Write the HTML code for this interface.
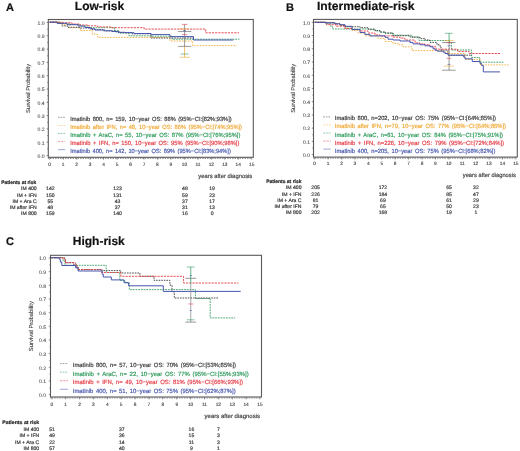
<!DOCTYPE html>
<html><head><meta charset="utf-8"><style>
html,body{margin:0;padding:0;background:#fff;}
svg{display:block;font-family:"Liberation Sans", sans-serif;text-rendering:geometricPrecision;will-change:transform;filter:blur(0.25px);}
</style></head><body>
<svg width="520" height="451" viewBox="0 0 520 451">
<rect width="520" height="451" fill="#fff"/>
<text x="6" y="10.8" font-size="11" text-anchor="start" fill="#111" stroke="#111" stroke-width="0.18" font-weight="bold">A</text>
<text x="74.8" y="9.6" font-size="12" text-anchor="start" fill="#111" stroke="#111" stroke-width="0.18" font-weight="bold" textLength="49.4" lengthAdjust="spacingAndGlyphs">Low-risk</text>
<rect x="48.3" y="19.5" width="205.0" height="137.8" fill="none" stroke="#5a5a5a" stroke-width="1.1"/>
<line x1="46.599999999999994" y1="155.50" x2="48.3" y2="155.50" stroke="#5a5a5a" stroke-width="0.7"/>
<text x="44.699999999999996" y="157.80" font-size="5.1" text-anchor="end" fill="#555" stroke="#555" stroke-width="0.1">0.0</text>
<line x1="47.099999999999994" y1="148.85" x2="48.3" y2="148.85" stroke="#5a5a5a" stroke-width="0.6"/>
<line x1="46.599999999999994" y1="142.20" x2="48.3" y2="142.20" stroke="#5a5a5a" stroke-width="0.7"/>
<text x="44.699999999999996" y="144.50" font-size="5.1" text-anchor="end" fill="#555" stroke="#555" stroke-width="0.1">0.1</text>
<line x1="47.099999999999994" y1="135.55" x2="48.3" y2="135.55" stroke="#5a5a5a" stroke-width="0.6"/>
<line x1="46.599999999999994" y1="128.90" x2="48.3" y2="128.90" stroke="#5a5a5a" stroke-width="0.7"/>
<text x="44.699999999999996" y="131.20" font-size="5.1" text-anchor="end" fill="#555" stroke="#555" stroke-width="0.1">0.2</text>
<line x1="47.099999999999994" y1="122.25" x2="48.3" y2="122.25" stroke="#5a5a5a" stroke-width="0.6"/>
<line x1="46.599999999999994" y1="115.60" x2="48.3" y2="115.60" stroke="#5a5a5a" stroke-width="0.7"/>
<text x="44.699999999999996" y="117.90" font-size="5.1" text-anchor="end" fill="#555" stroke="#555" stroke-width="0.1">0.3</text>
<line x1="47.099999999999994" y1="108.95" x2="48.3" y2="108.95" stroke="#5a5a5a" stroke-width="0.6"/>
<line x1="46.599999999999994" y1="102.30" x2="48.3" y2="102.30" stroke="#5a5a5a" stroke-width="0.7"/>
<text x="44.699999999999996" y="104.60" font-size="5.1" text-anchor="end" fill="#555" stroke="#555" stroke-width="0.1">0.4</text>
<line x1="47.099999999999994" y1="95.65" x2="48.3" y2="95.65" stroke="#5a5a5a" stroke-width="0.6"/>
<line x1="46.599999999999994" y1="89.00" x2="48.3" y2="89.00" stroke="#5a5a5a" stroke-width="0.7"/>
<text x="44.699999999999996" y="91.30" font-size="5.1" text-anchor="end" fill="#555" stroke="#555" stroke-width="0.1">0.5</text>
<line x1="47.099999999999994" y1="82.35" x2="48.3" y2="82.35" stroke="#5a5a5a" stroke-width="0.6"/>
<line x1="46.599999999999994" y1="75.70" x2="48.3" y2="75.70" stroke="#5a5a5a" stroke-width="0.7"/>
<text x="44.699999999999996" y="78.00" font-size="5.1" text-anchor="end" fill="#555" stroke="#555" stroke-width="0.1">0.6</text>
<line x1="47.099999999999994" y1="69.05" x2="48.3" y2="69.05" stroke="#5a5a5a" stroke-width="0.6"/>
<line x1="46.599999999999994" y1="62.40" x2="48.3" y2="62.40" stroke="#5a5a5a" stroke-width="0.7"/>
<text x="44.699999999999996" y="64.70" font-size="5.1" text-anchor="end" fill="#555" stroke="#555" stroke-width="0.1">0.7</text>
<line x1="47.099999999999994" y1="55.75" x2="48.3" y2="55.75" stroke="#5a5a5a" stroke-width="0.6"/>
<line x1="46.599999999999994" y1="49.10" x2="48.3" y2="49.10" stroke="#5a5a5a" stroke-width="0.7"/>
<text x="44.699999999999996" y="51.40" font-size="5.1" text-anchor="end" fill="#555" stroke="#555" stroke-width="0.1">0.8</text>
<line x1="47.099999999999994" y1="42.45" x2="48.3" y2="42.45" stroke="#5a5a5a" stroke-width="0.6"/>
<line x1="46.599999999999994" y1="35.80" x2="48.3" y2="35.80" stroke="#5a5a5a" stroke-width="0.7"/>
<text x="44.699999999999996" y="38.10" font-size="5.1" text-anchor="end" fill="#555" stroke="#555" stroke-width="0.1">0.9</text>
<line x1="47.099999999999994" y1="29.15" x2="48.3" y2="29.15" stroke="#5a5a5a" stroke-width="0.6"/>
<line x1="46.599999999999994" y1="22.50" x2="48.3" y2="22.50" stroke="#5a5a5a" stroke-width="0.7"/>
<text x="44.699999999999996" y="24.80" font-size="5.1" text-anchor="end" fill="#555" stroke="#555" stroke-width="0.1">1.0</text>
<line x1="49.70" y1="157.3" x2="49.70" y2="159.70000000000002" stroke="#5a5a5a" stroke-width="0.6"/>
<text x="49.70" y="166.10" font-size="4.8" text-anchor="middle" fill="#444" stroke="#444" stroke-width="0.12">0</text>
<line x1="63.17" y1="157.3" x2="63.17" y2="159.70000000000002" stroke="#5a5a5a" stroke-width="0.6"/>
<text x="63.17" y="166.10" font-size="4.8" text-anchor="middle" fill="#444" stroke="#444" stroke-width="0.12">1</text>
<line x1="76.64" y1="157.3" x2="76.64" y2="159.70000000000002" stroke="#5a5a5a" stroke-width="0.6"/>
<text x="76.64" y="166.10" font-size="4.8" text-anchor="middle" fill="#444" stroke="#444" stroke-width="0.12">2</text>
<line x1="90.11" y1="157.3" x2="90.11" y2="159.70000000000002" stroke="#5a5a5a" stroke-width="0.6"/>
<text x="90.11" y="166.10" font-size="4.8" text-anchor="middle" fill="#444" stroke="#444" stroke-width="0.12">3</text>
<line x1="103.58" y1="157.3" x2="103.58" y2="159.70000000000002" stroke="#5a5a5a" stroke-width="0.6"/>
<text x="103.58" y="166.10" font-size="4.8" text-anchor="middle" fill="#444" stroke="#444" stroke-width="0.12">4</text>
<line x1="117.05" y1="157.3" x2="117.05" y2="159.70000000000002" stroke="#5a5a5a" stroke-width="0.6"/>
<text x="117.05" y="166.10" font-size="4.8" text-anchor="middle" fill="#444" stroke="#444" stroke-width="0.12">5</text>
<line x1="130.52" y1="157.3" x2="130.52" y2="159.70000000000002" stroke="#5a5a5a" stroke-width="0.6"/>
<text x="130.52" y="166.10" font-size="4.8" text-anchor="middle" fill="#444" stroke="#444" stroke-width="0.12">6</text>
<line x1="143.99" y1="157.3" x2="143.99" y2="159.70000000000002" stroke="#5a5a5a" stroke-width="0.6"/>
<text x="143.99" y="166.10" font-size="4.8" text-anchor="middle" fill="#444" stroke="#444" stroke-width="0.12">7</text>
<line x1="157.46" y1="157.3" x2="157.46" y2="159.70000000000002" stroke="#5a5a5a" stroke-width="0.6"/>
<text x="157.46" y="166.10" font-size="4.8" text-anchor="middle" fill="#444" stroke="#444" stroke-width="0.12">8</text>
<line x1="170.93" y1="157.3" x2="170.93" y2="159.70000000000002" stroke="#5a5a5a" stroke-width="0.6"/>
<text x="170.93" y="166.10" font-size="4.8" text-anchor="middle" fill="#444" stroke="#444" stroke-width="0.12">9</text>
<line x1="184.40" y1="157.3" x2="184.40" y2="159.70000000000002" stroke="#5a5a5a" stroke-width="0.6"/>
<text x="184.40" y="166.10" font-size="4.8" text-anchor="middle" fill="#444" stroke="#444" stroke-width="0.12">10</text>
<line x1="197.87" y1="157.3" x2="197.87" y2="159.70000000000002" stroke="#5a5a5a" stroke-width="0.6"/>
<text x="197.87" y="166.10" font-size="4.8" text-anchor="middle" fill="#444" stroke="#444" stroke-width="0.12">11</text>
<line x1="211.34" y1="157.3" x2="211.34" y2="159.70000000000002" stroke="#5a5a5a" stroke-width="0.6"/>
<text x="211.34" y="166.10" font-size="4.8" text-anchor="middle" fill="#444" stroke="#444" stroke-width="0.12">12</text>
<line x1="224.81" y1="157.3" x2="224.81" y2="159.70000000000002" stroke="#5a5a5a" stroke-width="0.6"/>
<text x="224.81" y="166.10" font-size="4.8" text-anchor="middle" fill="#444" stroke="#444" stroke-width="0.12">13</text>
<line x1="238.28" y1="157.3" x2="238.28" y2="159.70000000000002" stroke="#5a5a5a" stroke-width="0.6"/>
<text x="238.28" y="166.10" font-size="4.8" text-anchor="middle" fill="#444" stroke="#444" stroke-width="0.12">14</text>
<line x1="251.75" y1="157.3" x2="251.75" y2="159.70000000000002" stroke="#5a5a5a" stroke-width="0.6"/>
<text x="251.75" y="166.10" font-size="4.8" text-anchor="middle" fill="#444" stroke="#444" stroke-width="0.12">15</text>
<line x1="48.3" y1="158.3" x2="251.75" y2="158.3" stroke="#5a5a5a" stroke-width="1.2" stroke-dasharray="0.6 1.07"/>
<text x="30.4" y="88.4" font-size="5.8" text-anchor="middle" fill="#444" stroke="#444" stroke-width="0.12" transform="rotate(-90 30.4 88.4)" textLength="49" lengthAdjust="spacingAndGlyphs">Survival Probability</text>
<text x="198.3" y="178" font-size="5.9" text-anchor="start" fill="#444" stroke="#444" stroke-width="0.18" textLength="54" lengthAdjust="spacingAndGlyphs">years after diagnosis</text>
<path d="M49.7,22.2H63.0V24.8H70.0V27.7H80.3V30.5H92.4V34.2H97.7V37.4H170.0V41.0H192.7V45.6H236.8" fill="none" stroke="#f0aa36" stroke-width="0.9" stroke-dasharray="1.6 1.2"/>
<path d="M49.7,22.2H60.0V23.2H70.0V24.5H80.0V26.0H88.0V27.7H114.6V30.4H118.5V33.0H129.0V35.8H151.0V36.2H172.0V39.2H239.4" fill="none" stroke="#2f9a5c" stroke-width="0.85" stroke-dasharray="1.8 0.9"/>
<path d="M49.7,22.2H58.0V23.5H62.0V25.9H67.6V27.3H80.0V28.0H92.0V29.6H103.0V30.8H115.0V31.8H120.0V32.7H132.0V33.8H151.0V38.0H193.0" fill="none" stroke="#3a3a3a" stroke-width="0.9" stroke-dasharray="1.6 1.0"/>
<path d="M49.7,22.2H60.0V22.8H72.0V24.0H80.0V25.0H88.0V25.8H97.7V26.9H110.8V27.7H144.2V29.1H205.7V32.8H239.0" fill="none" stroke="#e63c46" stroke-width="0.9" stroke-dasharray="2.2 1.0"/>
<path d="M49.7,22.2H57.0V23.3H67.0V24.7H78.0V26.0H85.0V27.5H90.0V28.8H95.0V30.0H105.0V30.8H112.0V31.5H118.0V32.3H125.0V32.7H134.0V33.5H151.0V34.6H170.0V36.6H193.5V40.0H233.3" fill="none" stroke="#4656ae" stroke-width="1.0"/>
<line x1="184.6" y1="24.4" x2="184.6" y2="46.4" stroke="#777" stroke-width="1.0" opacity="0.75"/>
<line x1="184.6" y1="46.4" x2="184.6" y2="57.3" stroke="#f0aa36" stroke-width="1.0" opacity="0.75"/>
<line x1="182" y1="24.4" x2="187.3" y2="24.4" stroke="#e63c46" stroke-width="0.9" opacity="0.65"/>
<line x1="179.3" y1="28.9" x2="189" y2="28.9" stroke="#f0aa36" stroke-width="0.9" opacity="0.65"/>
<line x1="178" y1="31.5" x2="191.3" y2="31.5" stroke="#555" stroke-width="0.9" opacity="0.65"/>
<line x1="182" y1="34.6" x2="187.3" y2="34.6" stroke="#e63c46" stroke-width="0.9" opacity="0.65"/>
<line x1="178" y1="46.4" x2="191.3" y2="46.4" stroke="#555" stroke-width="0.9" opacity="0.65"/>
<line x1="180.6" y1="54" x2="188.6" y2="54" stroke="#2f9a5c" stroke-width="0.9" opacity="0.65"/>
<line x1="179.3" y1="57.3" x2="190" y2="57.3" stroke="#f0aa36" stroke-width="0.9" opacity="0.65"/>
<line x1="183" y1="30.6" x2="186" y2="30.6" stroke="#4656ae" stroke-width="0.9" opacity="0.65"/>
<line x1="58" y1="117.30" x2="65.3" y2="117.30" stroke="#3a3a3a" stroke-width="0.75" stroke-dasharray="1.6 1.0" opacity="0.7"/>
<text x="70.2" y="120.80" font-size="6.0" text-anchor="start" fill="#3a3a3a" stroke="#3a3a3a" stroke-width="0.18" textLength="161.5" lengthAdjust="spacingAndGlyphs" word-spacing="0.9">Imatinib 800, n= 159, 10−year OS: 88% (95%−CI:[82%;93%])</text>
<line x1="58" y1="125.40" x2="65.3" y2="125.40" stroke="#f0aa36" stroke-width="0.75" stroke-dasharray="1.6 1.2" opacity="0.7"/>
<text x="70.2" y="128.90" font-size="6.0" text-anchor="start" fill="#f0aa36" stroke="#f0aa36" stroke-width="0.18" textLength="171.8" lengthAdjust="spacingAndGlyphs" word-spacing="0.9">Imatinib after IFN, n= 48, 10−year OS: 86% (95%−CI:[74%;95%])</text>
<line x1="58" y1="133.50" x2="65.3" y2="133.50" stroke="#2f9a5c" stroke-width="0.75" stroke-dasharray="1.8 0.9" opacity="0.7"/>
<text x="70.2" y="137.00" font-size="6.0" text-anchor="start" fill="#2f9a5c" stroke="#2f9a5c" stroke-width="0.18" textLength="170.2" lengthAdjust="spacingAndGlyphs" word-spacing="0.9">Imatinib + AraC, n= 55, 10−year OS: 87% (95%−CI:[76%;95%])</text>
<line x1="58" y1="141.60" x2="65.3" y2="141.60" stroke="#e63c46" stroke-width="0.75" stroke-dasharray="2.2 1.0" opacity="0.7"/>
<text x="70.2" y="145.10" font-size="6.0" text-anchor="start" fill="#e63c46" stroke="#e63c46" stroke-width="0.18" textLength="169.2" lengthAdjust="spacingAndGlyphs" word-spacing="0.9">Imatinib + IFN, n= 150, 10−year OS: 95% (95%−CI:[90%;98%])</text>
<line x1="58" y1="149.70" x2="65.3" y2="149.70" stroke="#4656ae" stroke-width="0.75" opacity="0.7"/>
<text x="70.2" y="153.20" font-size="6.0" text-anchor="start" fill="#4656ae" stroke="#4656ae" stroke-width="0.18" textLength="160.6" lengthAdjust="spacingAndGlyphs" word-spacing="0.9">Imatinib 400, n= 142, 10−year OS: 89% (95%−CI:[83%;94%])</text>
<text x="1.2" y="183.70" font-size="5.0" text-anchor="start" fill="#222" stroke="#222" stroke-width="0.18" font-weight="bold" textLength="35" lengthAdjust="spacingAndGlyphs">Patients at risk</text>
<text x="36.7" y="190.40" font-size="5.1" text-anchor="end" fill="#333" stroke="#333" stroke-width="0.18">IM 400</text>
<text x="50.3" y="190.40" font-size="5.1" text-anchor="middle" fill="#333" stroke="#333" stroke-width="0.16">142</text>
<text x="117.6" y="190.40" font-size="5.1" text-anchor="middle" fill="#333" stroke="#333" stroke-width="0.16">123</text>
<text x="184.9" y="190.40" font-size="5.1" text-anchor="middle" fill="#333" stroke="#333" stroke-width="0.16">48</text>
<text x="212.1" y="190.40" font-size="5.1" text-anchor="middle" fill="#333" stroke="#333" stroke-width="0.16">19</text>
<text x="36.7" y="196.60" font-size="5.1" text-anchor="end" fill="#333" stroke="#333" stroke-width="0.18">IM + IFN</text>
<text x="50.3" y="196.60" font-size="5.1" text-anchor="middle" fill="#333" stroke="#333" stroke-width="0.16">150</text>
<text x="117.6" y="196.60" font-size="5.1" text-anchor="middle" fill="#333" stroke="#333" stroke-width="0.16">131</text>
<text x="184.9" y="196.60" font-size="5.1" text-anchor="middle" fill="#333" stroke="#333" stroke-width="0.16">59</text>
<text x="212.1" y="196.60" font-size="5.1" text-anchor="middle" fill="#333" stroke="#333" stroke-width="0.16">23</text>
<text x="36.7" y="202.80" font-size="5.1" text-anchor="end" fill="#333" stroke="#333" stroke-width="0.18">IM + Ara C</text>
<text x="50.3" y="202.80" font-size="5.1" text-anchor="middle" fill="#333" stroke="#333" stroke-width="0.16">55</text>
<text x="117.6" y="202.80" font-size="5.1" text-anchor="middle" fill="#333" stroke="#333" stroke-width="0.16">43</text>
<text x="184.9" y="202.80" font-size="5.1" text-anchor="middle" fill="#333" stroke="#333" stroke-width="0.16">37</text>
<text x="212.1" y="202.80" font-size="5.1" text-anchor="middle" fill="#333" stroke="#333" stroke-width="0.16">17</text>
<text x="36.7" y="209.00" font-size="5.1" text-anchor="end" fill="#333" stroke="#333" stroke-width="0.18">IM after IFN</text>
<text x="50.3" y="209.00" font-size="5.1" text-anchor="middle" fill="#333" stroke="#333" stroke-width="0.16">48</text>
<text x="117.6" y="209.00" font-size="5.1" text-anchor="middle" fill="#333" stroke="#333" stroke-width="0.16">37</text>
<text x="184.9" y="209.00" font-size="5.1" text-anchor="middle" fill="#333" stroke="#333" stroke-width="0.16">31</text>
<text x="212.1" y="209.00" font-size="5.1" text-anchor="middle" fill="#333" stroke="#333" stroke-width="0.16">13</text>
<text x="36.7" y="215.20" font-size="5.1" text-anchor="end" fill="#333" stroke="#333" stroke-width="0.18">IM 800</text>
<text x="50.3" y="215.20" font-size="5.1" text-anchor="middle" fill="#333" stroke="#333" stroke-width="0.16">159</text>
<text x="117.6" y="215.20" font-size="5.1" text-anchor="middle" fill="#333" stroke="#333" stroke-width="0.16">140</text>
<text x="184.9" y="215.20" font-size="5.1" text-anchor="middle" fill="#333" stroke="#333" stroke-width="0.16">16</text>
<text x="212.1" y="215.20" font-size="5.1" text-anchor="middle" fill="#333" stroke="#333" stroke-width="0.16">0</text>
<text x="285.9" y="10.8" font-size="11" text-anchor="start" fill="#111" stroke="#111" stroke-width="0.18" font-weight="bold">B</text>
<text x="316.9" y="9.6" font-size="12" text-anchor="start" fill="#111" stroke="#111" stroke-width="0.18" font-weight="bold" textLength="97.6" lengthAdjust="spacingAndGlyphs">Intermediate-risk</text>
<rect x="313.5" y="19.4" width="203.79999999999995" height="137.7" fill="none" stroke="#5a5a5a" stroke-width="1.1"/>
<line x1="311.8" y1="154.60" x2="313.5" y2="154.60" stroke="#5a5a5a" stroke-width="0.7"/>
<text x="310.0" y="156.90" font-size="5.1" text-anchor="end" fill="#555" stroke="#555" stroke-width="0.1">0.0</text>
<line x1="312.3" y1="147.98" x2="313.5" y2="147.98" stroke="#5a5a5a" stroke-width="0.6"/>
<line x1="311.8" y1="141.37" x2="313.5" y2="141.37" stroke="#5a5a5a" stroke-width="0.7"/>
<text x="310.0" y="143.67" font-size="5.1" text-anchor="end" fill="#555" stroke="#555" stroke-width="0.1">0.1</text>
<line x1="312.3" y1="134.75" x2="313.5" y2="134.75" stroke="#5a5a5a" stroke-width="0.6"/>
<line x1="311.8" y1="128.14" x2="313.5" y2="128.14" stroke="#5a5a5a" stroke-width="0.7"/>
<text x="310.0" y="130.44" font-size="5.1" text-anchor="end" fill="#555" stroke="#555" stroke-width="0.1">0.2</text>
<line x1="312.3" y1="121.52" x2="313.5" y2="121.52" stroke="#5a5a5a" stroke-width="0.6"/>
<line x1="311.8" y1="114.91" x2="313.5" y2="114.91" stroke="#5a5a5a" stroke-width="0.7"/>
<text x="310.0" y="117.21" font-size="5.1" text-anchor="end" fill="#555" stroke="#555" stroke-width="0.1">0.3</text>
<line x1="312.3" y1="108.29" x2="313.5" y2="108.29" stroke="#5a5a5a" stroke-width="0.6"/>
<line x1="311.8" y1="101.68" x2="313.5" y2="101.68" stroke="#5a5a5a" stroke-width="0.7"/>
<text x="310.0" y="103.98" font-size="5.1" text-anchor="end" fill="#555" stroke="#555" stroke-width="0.1">0.4</text>
<line x1="312.3" y1="95.06" x2="313.5" y2="95.06" stroke="#5a5a5a" stroke-width="0.6"/>
<line x1="311.8" y1="88.45" x2="313.5" y2="88.45" stroke="#5a5a5a" stroke-width="0.7"/>
<text x="310.0" y="90.75" font-size="5.1" text-anchor="end" fill="#555" stroke="#555" stroke-width="0.1">0.5</text>
<line x1="312.3" y1="81.83" x2="313.5" y2="81.83" stroke="#5a5a5a" stroke-width="0.6"/>
<line x1="311.8" y1="75.22" x2="313.5" y2="75.22" stroke="#5a5a5a" stroke-width="0.7"/>
<text x="310.0" y="77.52" font-size="5.1" text-anchor="end" fill="#555" stroke="#555" stroke-width="0.1">0.6</text>
<line x1="312.3" y1="68.60" x2="313.5" y2="68.60" stroke="#5a5a5a" stroke-width="0.6"/>
<line x1="311.8" y1="61.99" x2="313.5" y2="61.99" stroke="#5a5a5a" stroke-width="0.7"/>
<text x="310.0" y="64.29" font-size="5.1" text-anchor="end" fill="#555" stroke="#555" stroke-width="0.1">0.7</text>
<line x1="312.3" y1="55.37" x2="313.5" y2="55.37" stroke="#5a5a5a" stroke-width="0.6"/>
<line x1="311.8" y1="48.76" x2="313.5" y2="48.76" stroke="#5a5a5a" stroke-width="0.7"/>
<text x="310.0" y="51.06" font-size="5.1" text-anchor="end" fill="#555" stroke="#555" stroke-width="0.1">0.8</text>
<line x1="312.3" y1="42.14" x2="313.5" y2="42.14" stroke="#5a5a5a" stroke-width="0.6"/>
<line x1="311.8" y1="35.53" x2="313.5" y2="35.53" stroke="#5a5a5a" stroke-width="0.7"/>
<text x="310.0" y="37.83" font-size="5.1" text-anchor="end" fill="#555" stroke="#555" stroke-width="0.1">0.9</text>
<line x1="312.3" y1="28.91" x2="313.5" y2="28.91" stroke="#5a5a5a" stroke-width="0.6"/>
<line x1="311.8" y1="22.30" x2="313.5" y2="22.30" stroke="#5a5a5a" stroke-width="0.7"/>
<text x="310.0" y="24.60" font-size="5.1" text-anchor="end" fill="#555" stroke="#555" stroke-width="0.1">1.0</text>
<line x1="314.70" y1="157.1" x2="314.70" y2="159.5" stroke="#5a5a5a" stroke-width="0.6"/>
<text x="314.70" y="165.30" font-size="4.8" text-anchor="middle" fill="#444" stroke="#444" stroke-width="0.12">0</text>
<line x1="328.11" y1="157.1" x2="328.11" y2="159.5" stroke="#5a5a5a" stroke-width="0.6"/>
<text x="328.11" y="165.30" font-size="4.8" text-anchor="middle" fill="#444" stroke="#444" stroke-width="0.12">1</text>
<line x1="341.52" y1="157.1" x2="341.52" y2="159.5" stroke="#5a5a5a" stroke-width="0.6"/>
<text x="341.52" y="165.30" font-size="4.8" text-anchor="middle" fill="#444" stroke="#444" stroke-width="0.12">2</text>
<line x1="354.93" y1="157.1" x2="354.93" y2="159.5" stroke="#5a5a5a" stroke-width="0.6"/>
<text x="354.93" y="165.30" font-size="4.8" text-anchor="middle" fill="#444" stroke="#444" stroke-width="0.12">3</text>
<line x1="368.34" y1="157.1" x2="368.34" y2="159.5" stroke="#5a5a5a" stroke-width="0.6"/>
<text x="368.34" y="165.30" font-size="4.8" text-anchor="middle" fill="#444" stroke="#444" stroke-width="0.12">4</text>
<line x1="381.75" y1="157.1" x2="381.75" y2="159.5" stroke="#5a5a5a" stroke-width="0.6"/>
<text x="381.75" y="165.30" font-size="4.8" text-anchor="middle" fill="#444" stroke="#444" stroke-width="0.12">5</text>
<line x1="395.16" y1="157.1" x2="395.16" y2="159.5" stroke="#5a5a5a" stroke-width="0.6"/>
<text x="395.16" y="165.30" font-size="4.8" text-anchor="middle" fill="#444" stroke="#444" stroke-width="0.12">6</text>
<line x1="408.57" y1="157.1" x2="408.57" y2="159.5" stroke="#5a5a5a" stroke-width="0.6"/>
<text x="408.57" y="165.30" font-size="4.8" text-anchor="middle" fill="#444" stroke="#444" stroke-width="0.12">7</text>
<line x1="421.98" y1="157.1" x2="421.98" y2="159.5" stroke="#5a5a5a" stroke-width="0.6"/>
<text x="421.98" y="165.30" font-size="4.8" text-anchor="middle" fill="#444" stroke="#444" stroke-width="0.12">8</text>
<line x1="435.39" y1="157.1" x2="435.39" y2="159.5" stroke="#5a5a5a" stroke-width="0.6"/>
<text x="435.39" y="165.30" font-size="4.8" text-anchor="middle" fill="#444" stroke="#444" stroke-width="0.12">9</text>
<line x1="448.80" y1="157.1" x2="448.80" y2="159.5" stroke="#5a5a5a" stroke-width="0.6"/>
<text x="448.80" y="165.30" font-size="4.8" text-anchor="middle" fill="#444" stroke="#444" stroke-width="0.12">10</text>
<line x1="462.21" y1="157.1" x2="462.21" y2="159.5" stroke="#5a5a5a" stroke-width="0.6"/>
<text x="462.21" y="165.30" font-size="4.8" text-anchor="middle" fill="#444" stroke="#444" stroke-width="0.12">11</text>
<line x1="475.62" y1="157.1" x2="475.62" y2="159.5" stroke="#5a5a5a" stroke-width="0.6"/>
<text x="475.62" y="165.30" font-size="4.8" text-anchor="middle" fill="#444" stroke="#444" stroke-width="0.12">12</text>
<line x1="489.03" y1="157.1" x2="489.03" y2="159.5" stroke="#5a5a5a" stroke-width="0.6"/>
<text x="489.03" y="165.30" font-size="4.8" text-anchor="middle" fill="#444" stroke="#444" stroke-width="0.12">13</text>
<line x1="502.44" y1="157.1" x2="502.44" y2="159.5" stroke="#5a5a5a" stroke-width="0.6"/>
<text x="502.44" y="165.30" font-size="4.8" text-anchor="middle" fill="#444" stroke="#444" stroke-width="0.12">14</text>
<line x1="515.85" y1="157.1" x2="515.85" y2="159.5" stroke="#5a5a5a" stroke-width="0.6"/>
<text x="515.85" y="165.30" font-size="4.8" text-anchor="middle" fill="#444" stroke="#444" stroke-width="0.12">15</text>
<line x1="313.5" y1="158.1" x2="515.85" y2="158.1" stroke="#5a5a5a" stroke-width="1.2" stroke-dasharray="0.6 1.07"/>
<text x="295.4" y="88.25" font-size="5.8" text-anchor="middle" fill="#444" stroke="#444" stroke-width="0.12" transform="rotate(-90 295.4 88.25)" textLength="49" lengthAdjust="spacingAndGlyphs">Survival Probability</text>
<text x="462.8" y="177.2" font-size="5.9" text-anchor="start" fill="#444" stroke="#444" stroke-width="0.18" textLength="53" lengthAdjust="spacingAndGlyphs">years after diagnosis</text>
<path d="M314.7,22.3H334.0V23.5H340.0V25.5H345.0V28.2H352.0V30.6H358.0V33.0H365.0V35.9H378.0V38.3H385.0V41.6H393.0V43.4H398.0V44.8H403.0V46.8H412.0V50.6H443.0V52.0H448.0V53.5H465.0V59.5H480.4V64.9H508.6" fill="none" stroke="#f0aa36" stroke-width="0.9" stroke-dasharray="1.6 1.2"/>
<path d="M314.7,22.3H326.4V23.8H330.8V26.7H332.7V29.0H370.0V29.6H375.0V30.8H380.0V32.2H385.0V33.2H393.0V35.2H412.0V37.1H419.0V40.5H449.5V42.7H451.4V50.0H471.6V57.5H479.7V62.2H504.0" fill="none" stroke="#2f9a5c" stroke-width="0.85" stroke-dasharray="1.8 0.9"/>
<path d="M314.7,22.3H325.0V22.8H335.0V24.0H340.0V25.2H345.0V26.7H360.0V27.7H368.0V29.1H375.0V30.6H380.0V32.0H385.0V33.0H393.0V35.7H410.0V37.1H420.0V38.6H425.0V40.0H430.0V42.4H437.0V44.8H440.0V46.3H441.0V50.1H448.0V55.2H472.0" fill="none" stroke="#3a3a3a" stroke-width="0.9" stroke-dasharray="1.6 1.0"/>
<path d="M314.7,22.3H326.4V24.7H336.0V26.2H345.0V28.6H352.0V29.5H360.0V31.0H368.0V33.0H375.0V34.9H380.0V35.9H393.0V37.1H400.0V38.1H405.0V40.0H415.0V42.9H420.0V43.9H425.0V44.8H430.0V46.3H433.0V46.8H436.0V49.2H457.5V51.4H469.0V53.5H500.6" fill="none" stroke="#e63c46" stroke-width="0.9" stroke-dasharray="2.2 1.0"/>
<path d="M314.7,22.3H325.0V22.8H335.0V23.8H340.0V24.7H345.0V26.3H352.0V29.6H360.0V32.5H365.0V34.4H370.0V35.9H385.0V37.3H388.0V39.2H393.0V40.0H400.0V41.0H410.0V42.4H413.0V43.9H420.0V44.8H425.0V45.8H430.0V46.8H433.0V48.7H435.0V50.1H437.0V51.1H443.0V52.0H445.0V53.5H448.0V55.2H463.5V56.8H465.0V58.8H472.3V61.5H480.0V63.6H481.7V65.6H483.3V71.9H500.0" fill="none" stroke="#4656ae" stroke-width="1.0"/>
<line x1="449.1" y1="33.3" x2="449.1" y2="42" stroke="#2f9a5c" stroke-width="1.0" opacity="0.75"/>
<line x1="449.1" y1="42" x2="449.1" y2="70.2" stroke="#777" stroke-width="1.0" opacity="0.75"/>
<line x1="445" y1="33.3" x2="452.7" y2="33.3" stroke="#2f9a5c" stroke-width="0.9" opacity="0.65"/>
<line x1="443.9" y1="40.5" x2="453.8" y2="40.5" stroke="#f0aa36" stroke-width="0.9" opacity="0.65"/>
<line x1="442.2" y1="42.5" x2="455.5" y2="42.5" stroke="#555" stroke-width="0.9" opacity="0.65"/>
<line x1="446.6" y1="42.7" x2="451" y2="42.7" stroke="#e63c46" stroke-width="0.9" opacity="0.65"/>
<line x1="447.5" y1="45.8" x2="450.5" y2="45.8" stroke="#4656ae" stroke-width="0.9" opacity="0.65"/>
<line x1="446.6" y1="58.3" x2="451" y2="58.3" stroke="#e63c46" stroke-width="0.9" opacity="0.65"/>
<line x1="447.5" y1="64.4" x2="450.5" y2="64.4" stroke="#4656ae" stroke-width="0.9" opacity="0.65"/>
<line x1="443.9" y1="66" x2="453.8" y2="66" stroke="#f0aa36" stroke-width="0.9" opacity="0.65"/>
<line x1="442.2" y1="70.2" x2="455.7" y2="70.2" stroke="#555" stroke-width="0.9" opacity="0.65"/>
<line x1="323.3" y1="116.90" x2="330.7" y2="116.90" stroke="#3a3a3a" stroke-width="0.75" stroke-dasharray="1.6 1.0" opacity="0.7"/>
<text x="334.8" y="120.40" font-size="6.0" text-anchor="start" fill="#3a3a3a" stroke="#3a3a3a" stroke-width="0.18" textLength="161.2" lengthAdjust="spacingAndGlyphs" word-spacing="0.9">Imatinib 800, n=202, 10−year OS: 75% (95%−CI:[64%;85%])</text>
<line x1="323.3" y1="124.95" x2="330.7" y2="124.95" stroke="#f0aa36" stroke-width="0.75" stroke-dasharray="1.6 1.2" opacity="0.7"/>
<text x="334.8" y="128.45" font-size="6.0" text-anchor="start" fill="#f0aa36" stroke="#f0aa36" stroke-width="0.18" textLength="171.2" lengthAdjust="spacingAndGlyphs" word-spacing="0.9">Imatinib after IFN, n=79, 10−year OS: 77% (95%−CI:[64%;86%])</text>
<line x1="323.3" y1="133.00" x2="330.7" y2="133.00" stroke="#2f9a5c" stroke-width="0.75" stroke-dasharray="1.8 0.9" opacity="0.7"/>
<text x="334.8" y="136.50" font-size="6.0" text-anchor="start" fill="#2f9a5c" stroke="#2f9a5c" stroke-width="0.18" textLength="168.2" lengthAdjust="spacingAndGlyphs" word-spacing="0.9">Imatinib + AraC, n=81, 10−year OS: 84% (95%−CI:[75%;91%])</text>
<line x1="323.3" y1="141.05" x2="330.7" y2="141.05" stroke="#e63c46" stroke-width="0.75" stroke-dasharray="2.2 1.0" opacity="0.7"/>
<text x="334.8" y="144.55" font-size="6.0" text-anchor="start" fill="#e63c46" stroke="#e63c46" stroke-width="0.18" textLength="169.2" lengthAdjust="spacingAndGlyphs" word-spacing="0.9">Imatinib + IFN, n=226, 10−year OS: 79% (95%−CI:[72%;84%])</text>
<line x1="323.3" y1="149.10" x2="330.7" y2="149.10" stroke="#4656ae" stroke-width="0.75" opacity="0.7"/>
<text x="334.8" y="152.60" font-size="6.0" text-anchor="start" fill="#4656ae" stroke="#4656ae" stroke-width="0.18" textLength="160.6" lengthAdjust="spacingAndGlyphs" word-spacing="0.9">Imatinib 400, n=205, 10−year OS: 75% (95%−CI:[68%;82%])</text>
<text x="266.2" y="182.90" font-size="5.0" text-anchor="start" fill="#222" stroke="#222" stroke-width="0.18" font-weight="bold" textLength="35.3" lengthAdjust="spacingAndGlyphs">Patients at risk</text>
<text x="301.5" y="189.40" font-size="5.1" text-anchor="end" fill="#333" stroke="#333" stroke-width="0.18">IM 400</text>
<text x="315.6" y="189.40" font-size="5.1" text-anchor="middle" fill="#333" stroke="#333" stroke-width="0.16">205</text>
<text x="382.9" y="189.40" font-size="5.1" text-anchor="middle" fill="#333" stroke="#333" stroke-width="0.16">172</text>
<text x="449" y="189.40" font-size="5.1" text-anchor="middle" fill="#333" stroke="#333" stroke-width="0.16">65</text>
<text x="475.9" y="189.40" font-size="5.1" text-anchor="middle" fill="#333" stroke="#333" stroke-width="0.16">32</text>
<text x="301.5" y="195.60" font-size="5.1" text-anchor="end" fill="#333" stroke="#333" stroke-width="0.18">IM + IFN</text>
<text x="315.6" y="195.60" font-size="5.1" text-anchor="middle" fill="#333" stroke="#333" stroke-width="0.16">226</text>
<text x="382.9" y="195.60" font-size="5.1" text-anchor="middle" fill="#333" stroke="#333" stroke-width="0.16">184</text>
<text x="449" y="195.60" font-size="5.1" text-anchor="middle" fill="#333" stroke="#333" stroke-width="0.16">85</text>
<text x="475.9" y="195.60" font-size="5.1" text-anchor="middle" fill="#333" stroke="#333" stroke-width="0.16">47</text>
<text x="301.5" y="201.80" font-size="5.1" text-anchor="end" fill="#333" stroke="#333" stroke-width="0.18">IM + Ara C</text>
<text x="315.6" y="201.80" font-size="5.1" text-anchor="middle" fill="#333" stroke="#333" stroke-width="0.16">81</text>
<text x="382.9" y="201.80" font-size="5.1" text-anchor="middle" fill="#333" stroke="#333" stroke-width="0.16">69</text>
<text x="449" y="201.80" font-size="5.1" text-anchor="middle" fill="#333" stroke="#333" stroke-width="0.16">61</text>
<text x="475.9" y="201.80" font-size="5.1" text-anchor="middle" fill="#333" stroke="#333" stroke-width="0.16">29</text>
<text x="301.5" y="208.00" font-size="5.1" text-anchor="end" fill="#333" stroke="#333" stroke-width="0.18">IM after IFN</text>
<text x="315.6" y="208.00" font-size="5.1" text-anchor="middle" fill="#333" stroke="#333" stroke-width="0.16">79</text>
<text x="382.9" y="208.00" font-size="5.1" text-anchor="middle" fill="#333" stroke="#333" stroke-width="0.16">65</text>
<text x="449" y="208.00" font-size="5.1" text-anchor="middle" fill="#333" stroke="#333" stroke-width="0.16">50</text>
<text x="475.9" y="208.00" font-size="5.1" text-anchor="middle" fill="#333" stroke="#333" stroke-width="0.16">23</text>
<text x="301.5" y="214.20" font-size="5.1" text-anchor="end" fill="#333" stroke="#333" stroke-width="0.18">IM 800</text>
<text x="315.6" y="214.20" font-size="5.1" text-anchor="middle" fill="#333" stroke="#333" stroke-width="0.16">202</text>
<text x="382.9" y="214.20" font-size="5.1" text-anchor="middle" fill="#333" stroke="#333" stroke-width="0.16">168</text>
<text x="449" y="214.20" font-size="5.1" text-anchor="middle" fill="#333" stroke="#333" stroke-width="0.16">19</text>
<text x="475.9" y="214.20" font-size="5.1" text-anchor="middle" fill="#333" stroke="#333" stroke-width="0.16">1</text>
<text x="5.9" y="244.5" font-size="11" text-anchor="start" fill="#111" stroke="#111" stroke-width="0.18" font-weight="bold">C</text>
<text x="72.8" y="244.8" font-size="12" text-anchor="start" fill="#111" stroke="#111" stroke-width="0.18" font-weight="bold" textLength="52" lengthAdjust="spacingAndGlyphs">High-risk</text>
<rect x="50.5" y="255.3" width="211.0" height="141.7" fill="none" stroke="#5a5a5a" stroke-width="1.1"/>
<line x1="48.8" y1="394.60" x2="50.5" y2="394.60" stroke="#5a5a5a" stroke-width="0.7"/>
<text x="46.199999999999996" y="396.90" font-size="5.1" text-anchor="end" fill="#555" stroke="#555" stroke-width="0.1">0.0</text>
<line x1="49.3" y1="387.77" x2="50.5" y2="387.77" stroke="#5a5a5a" stroke-width="0.6"/>
<line x1="48.8" y1="380.94" x2="50.5" y2="380.94" stroke="#5a5a5a" stroke-width="0.7"/>
<text x="46.199999999999996" y="383.24" font-size="5.1" text-anchor="end" fill="#555" stroke="#555" stroke-width="0.1">0.1</text>
<line x1="49.3" y1="374.11" x2="50.5" y2="374.11" stroke="#5a5a5a" stroke-width="0.6"/>
<line x1="48.8" y1="367.28" x2="50.5" y2="367.28" stroke="#5a5a5a" stroke-width="0.7"/>
<text x="46.199999999999996" y="369.58" font-size="5.1" text-anchor="end" fill="#555" stroke="#555" stroke-width="0.1">0.2</text>
<line x1="49.3" y1="360.45" x2="50.5" y2="360.45" stroke="#5a5a5a" stroke-width="0.6"/>
<line x1="48.8" y1="353.62" x2="50.5" y2="353.62" stroke="#5a5a5a" stroke-width="0.7"/>
<text x="46.199999999999996" y="355.92" font-size="5.1" text-anchor="end" fill="#555" stroke="#555" stroke-width="0.1">0.3</text>
<line x1="49.3" y1="346.79" x2="50.5" y2="346.79" stroke="#5a5a5a" stroke-width="0.6"/>
<line x1="48.8" y1="339.96" x2="50.5" y2="339.96" stroke="#5a5a5a" stroke-width="0.7"/>
<text x="46.199999999999996" y="342.26" font-size="5.1" text-anchor="end" fill="#555" stroke="#555" stroke-width="0.1">0.4</text>
<line x1="49.3" y1="333.13" x2="50.5" y2="333.13" stroke="#5a5a5a" stroke-width="0.6"/>
<line x1="48.8" y1="326.30" x2="50.5" y2="326.30" stroke="#5a5a5a" stroke-width="0.7"/>
<text x="46.199999999999996" y="328.60" font-size="5.1" text-anchor="end" fill="#555" stroke="#555" stroke-width="0.1">0.5</text>
<line x1="49.3" y1="319.47" x2="50.5" y2="319.47" stroke="#5a5a5a" stroke-width="0.6"/>
<line x1="48.8" y1="312.64" x2="50.5" y2="312.64" stroke="#5a5a5a" stroke-width="0.7"/>
<text x="46.199999999999996" y="314.94" font-size="5.1" text-anchor="end" fill="#555" stroke="#555" stroke-width="0.1">0.6</text>
<line x1="49.3" y1="305.81" x2="50.5" y2="305.81" stroke="#5a5a5a" stroke-width="0.6"/>
<line x1="48.8" y1="298.98" x2="50.5" y2="298.98" stroke="#5a5a5a" stroke-width="0.7"/>
<text x="46.199999999999996" y="301.28" font-size="5.1" text-anchor="end" fill="#555" stroke="#555" stroke-width="0.1">0.7</text>
<line x1="49.3" y1="292.15" x2="50.5" y2="292.15" stroke="#5a5a5a" stroke-width="0.6"/>
<line x1="48.8" y1="285.32" x2="50.5" y2="285.32" stroke="#5a5a5a" stroke-width="0.7"/>
<text x="46.199999999999996" y="287.62" font-size="5.1" text-anchor="end" fill="#555" stroke="#555" stroke-width="0.1">0.8</text>
<line x1="49.3" y1="278.49" x2="50.5" y2="278.49" stroke="#5a5a5a" stroke-width="0.6"/>
<line x1="48.8" y1="271.66" x2="50.5" y2="271.66" stroke="#5a5a5a" stroke-width="0.7"/>
<text x="46.199999999999996" y="273.96" font-size="5.1" text-anchor="end" fill="#555" stroke="#555" stroke-width="0.1">0.9</text>
<line x1="49.3" y1="264.83" x2="50.5" y2="264.83" stroke="#5a5a5a" stroke-width="0.6"/>
<line x1="48.8" y1="258.00" x2="50.5" y2="258.00" stroke="#5a5a5a" stroke-width="0.7"/>
<text x="46.199999999999996" y="260.30" font-size="5.1" text-anchor="end" fill="#555" stroke="#555" stroke-width="0.1">1.0</text>
<line x1="51.80" y1="397" x2="51.80" y2="399.4" stroke="#5a5a5a" stroke-width="0.6"/>
<text x="51.80" y="405.90" font-size="4.8" text-anchor="middle" fill="#444" stroke="#444" stroke-width="0.12">0</text>
<line x1="65.68" y1="397" x2="65.68" y2="399.4" stroke="#5a5a5a" stroke-width="0.6"/>
<text x="65.68" y="405.90" font-size="4.8" text-anchor="middle" fill="#444" stroke="#444" stroke-width="0.12">1</text>
<line x1="79.56" y1="397" x2="79.56" y2="399.4" stroke="#5a5a5a" stroke-width="0.6"/>
<text x="79.56" y="405.90" font-size="4.8" text-anchor="middle" fill="#444" stroke="#444" stroke-width="0.12">2</text>
<line x1="93.44" y1="397" x2="93.44" y2="399.4" stroke="#5a5a5a" stroke-width="0.6"/>
<text x="93.44" y="405.90" font-size="4.8" text-anchor="middle" fill="#444" stroke="#444" stroke-width="0.12">3</text>
<line x1="107.32" y1="397" x2="107.32" y2="399.4" stroke="#5a5a5a" stroke-width="0.6"/>
<text x="107.32" y="405.90" font-size="4.8" text-anchor="middle" fill="#444" stroke="#444" stroke-width="0.12">4</text>
<line x1="121.20" y1="397" x2="121.20" y2="399.4" stroke="#5a5a5a" stroke-width="0.6"/>
<text x="121.20" y="405.90" font-size="4.8" text-anchor="middle" fill="#444" stroke="#444" stroke-width="0.12">5</text>
<line x1="135.08" y1="397" x2="135.08" y2="399.4" stroke="#5a5a5a" stroke-width="0.6"/>
<text x="135.08" y="405.90" font-size="4.8" text-anchor="middle" fill="#444" stroke="#444" stroke-width="0.12">6</text>
<line x1="148.96" y1="397" x2="148.96" y2="399.4" stroke="#5a5a5a" stroke-width="0.6"/>
<text x="148.96" y="405.90" font-size="4.8" text-anchor="middle" fill="#444" stroke="#444" stroke-width="0.12">7</text>
<line x1="162.84" y1="397" x2="162.84" y2="399.4" stroke="#5a5a5a" stroke-width="0.6"/>
<text x="162.84" y="405.90" font-size="4.8" text-anchor="middle" fill="#444" stroke="#444" stroke-width="0.12">8</text>
<line x1="176.72" y1="397" x2="176.72" y2="399.4" stroke="#5a5a5a" stroke-width="0.6"/>
<text x="176.72" y="405.90" font-size="4.8" text-anchor="middle" fill="#444" stroke="#444" stroke-width="0.12">9</text>
<line x1="190.60" y1="397" x2="190.60" y2="399.4" stroke="#5a5a5a" stroke-width="0.6"/>
<text x="190.60" y="405.90" font-size="4.8" text-anchor="middle" fill="#444" stroke="#444" stroke-width="0.12">10</text>
<line x1="204.48" y1="397" x2="204.48" y2="399.4" stroke="#5a5a5a" stroke-width="0.6"/>
<text x="204.48" y="405.90" font-size="4.8" text-anchor="middle" fill="#444" stroke="#444" stroke-width="0.12">11</text>
<line x1="218.36" y1="397" x2="218.36" y2="399.4" stroke="#5a5a5a" stroke-width="0.6"/>
<text x="218.36" y="405.90" font-size="4.8" text-anchor="middle" fill="#444" stroke="#444" stroke-width="0.12">12</text>
<line x1="232.24" y1="397" x2="232.24" y2="399.4" stroke="#5a5a5a" stroke-width="0.6"/>
<text x="232.24" y="405.90" font-size="4.8" text-anchor="middle" fill="#444" stroke="#444" stroke-width="0.12">13</text>
<line x1="246.12" y1="397" x2="246.12" y2="399.4" stroke="#5a5a5a" stroke-width="0.6"/>
<text x="246.12" y="405.90" font-size="4.8" text-anchor="middle" fill="#444" stroke="#444" stroke-width="0.12">14</text>
<line x1="260.00" y1="397" x2="260.00" y2="399.4" stroke="#5a5a5a" stroke-width="0.6"/>
<text x="260.00" y="405.90" font-size="4.8" text-anchor="middle" fill="#444" stroke="#444" stroke-width="0.12">15</text>
<line x1="50.5" y1="398.0" x2="260.00" y2="398.0" stroke="#5a5a5a" stroke-width="1.2" stroke-dasharray="0.6 1.07"/>
<text x="32.6" y="326.15" font-size="5.8" text-anchor="middle" fill="#444" stroke="#444" stroke-width="0.12" transform="rotate(-90 32.6 326.15)" textLength="50" lengthAdjust="spacingAndGlyphs">Survival Probability</text>
<text x="204.6" y="417.8" font-size="5.9" text-anchor="start" fill="#444" stroke="#444" stroke-width="0.18" textLength="55.4" lengthAdjust="spacingAndGlyphs">years after diagnosis</text>
<path d="M51.3,257.7H63.0V261.0H65.0V265.3H106.2V272.5H119.8V280.5H125.0V282.7H129.3V289.6H195.4V298.5H210.2V317.9H235.2" fill="none" stroke="#2f9a5c" stroke-width="0.85" stroke-dasharray="1.8 0.9"/>
<path d="M51.3,257.7H64.7V259.8H65.5V262.7H73.9V265.0H76.8V267.8H78.5V269.6H102.0V270.6H120.8V273.0H139.9V276.3H154.0V280.3H169.9V285.2H172.0V291.8H174.3V298.0H218.6" fill="none" stroke="#3a3a3a" stroke-width="0.9" stroke-dasharray="1.6 1.0"/>
<path d="M51.3,257.7H64.1V259.8H65.3V262.7H75.6V265.0H76.8V267.8H78.5V269.6H101.6V272.5H120.8V276.3H183.6V283.0H238.5" fill="none" stroke="#e63c46" stroke-width="0.9" stroke-dasharray="2.2 1.0"/>
<path d="M51.3,257.7H59.2V259.2H60.3V262.0H61.8V265.5H75.6V267.8H78.0V271.0H102.2V274.2H103.3V277.0H111.3V279.9H124.0V282.7H128.6V285.8H163.3V291.4H240.7" fill="none" stroke="#4656ae" stroke-width="1.0"/>
<line x1="190.75" y1="267" x2="190.75" y2="284" stroke="#2f9a5c" stroke-width="1.0" opacity="0.75"/>
<line x1="190.75" y1="284" x2="190.75" y2="322.1" stroke="#888" stroke-width="1.0" opacity="0.75"/>
<line x1="186.9" y1="267" x2="194.6" y2="267" stroke="#2f9a5c" stroke-width="0.9" opacity="0.65"/>
<line x1="189.7" y1="275.5" x2="191.8" y2="275.5" stroke="#4656ae" stroke-width="0.9" opacity="0.65"/>
<line x1="185.3" y1="278.3" x2="196.2" y2="278.3" stroke="#555" stroke-width="0.9" opacity="0.65"/>
<line x1="188.4" y1="304" x2="193.4" y2="304" stroke="#e63c46" stroke-width="0.9" opacity="0.65"/>
<line x1="189.7" y1="310.5" x2="191.8" y2="310.5" stroke="#4656ae" stroke-width="0.9" opacity="0.65"/>
<line x1="186.9" y1="319.8" x2="194.6" y2="319.8" stroke="#2f9a5c" stroke-width="0.9" opacity="0.65"/>
<line x1="185.3" y1="322.1" x2="196.2" y2="322.1" stroke="#555" stroke-width="0.9" opacity="0.65"/>
<line x1="60" y1="363.60" x2="68" y2="363.60" stroke="#3a3a3a" stroke-width="0.75" stroke-dasharray="1.6 1.0" opacity="0.7"/>
<text x="72.8" y="367.10" font-size="6.0" text-anchor="start" fill="#3a3a3a" stroke="#3a3a3a" stroke-width="0.18" textLength="163.2" lengthAdjust="spacingAndGlyphs" word-spacing="0.9">Imatinib 800, n= 57, 10−year OS: 70% (95%−CI:[53%;85%])</text>
<line x1="60" y1="372.15" x2="68" y2="372.15" stroke="#2f9a5c" stroke-width="0.75" stroke-dasharray="1.8 0.9" opacity="0.7"/>
<text x="72.8" y="375.65" font-size="6.0" text-anchor="start" fill="#2f9a5c" stroke="#2f9a5c" stroke-width="0.18" textLength="176.0" lengthAdjust="spacingAndGlyphs" word-spacing="0.9">Imatinib + AraC, n= 22, 10−year OS: 77% (95%−CI:[55%;93%])</text>
<line x1="60" y1="380.70" x2="68" y2="380.70" stroke="#e63c46" stroke-width="0.75" stroke-dasharray="2.2 1.0" opacity="0.7"/>
<text x="72.8" y="384.20" font-size="6.0" text-anchor="start" fill="#e63c46" stroke="#e63c46" stroke-width="0.18" textLength="170.2" lengthAdjust="spacingAndGlyphs" word-spacing="0.9">Imatinib + IFN, n= 49, 10−year OS: 81% (95%−CI:[66%;93%])</text>
<line x1="60" y1="389.25" x2="68" y2="389.25" stroke="#4656ae" stroke-width="0.75" opacity="0.7"/>
<text x="72.8" y="392.75" font-size="6.0" text-anchor="start" fill="#4656ae" stroke="#4656ae" stroke-width="0.18" textLength="162.9" lengthAdjust="spacingAndGlyphs" word-spacing="0.9">Imatinib 400, n= 51, 10−year OS: 75% (95%−CI:[62%;87%])</text>
<text x="2.3" y="423.80" font-size="5.0" text-anchor="start" fill="#222" stroke="#222" stroke-width="0.18" font-weight="bold" textLength="36.9" lengthAdjust="spacingAndGlyphs">Patients at risk</text>
<text x="39.2" y="430.90" font-size="5.1" text-anchor="end" fill="#333" stroke="#333" stroke-width="0.18">IM 400</text>
<text x="52.1" y="430.90" font-size="5.1" text-anchor="middle" fill="#333" stroke="#333" stroke-width="0.16">51</text>
<text x="121.8" y="430.90" font-size="5.1" text-anchor="middle" fill="#333" stroke="#333" stroke-width="0.16">37</text>
<text x="191.4" y="430.90" font-size="5.1" text-anchor="middle" fill="#333" stroke="#333" stroke-width="0.16">16</text>
<text x="218.5" y="430.90" font-size="5.1" text-anchor="middle" fill="#333" stroke="#333" stroke-width="0.16">7</text>
<text x="39.2" y="437.20" font-size="5.1" text-anchor="end" fill="#333" stroke="#333" stroke-width="0.18">IM + IFN</text>
<text x="52.1" y="437.20" font-size="5.1" text-anchor="middle" fill="#333" stroke="#333" stroke-width="0.16">49</text>
<text x="121.8" y="437.20" font-size="5.1" text-anchor="middle" fill="#333" stroke="#333" stroke-width="0.16">36</text>
<text x="191.4" y="437.20" font-size="5.1" text-anchor="middle" fill="#333" stroke="#333" stroke-width="0.16">15</text>
<text x="218.5" y="437.20" font-size="5.1" text-anchor="middle" fill="#333" stroke="#333" stroke-width="0.16">3</text>
<text x="39.2" y="443.50" font-size="5.1" text-anchor="end" fill="#333" stroke="#333" stroke-width="0.18">IM + Ara C</text>
<text x="52.1" y="443.50" font-size="5.1" text-anchor="middle" fill="#333" stroke="#333" stroke-width="0.16">22</text>
<text x="121.8" y="443.50" font-size="5.1" text-anchor="middle" fill="#333" stroke="#333" stroke-width="0.16">14</text>
<text x="191.4" y="443.50" font-size="5.1" text-anchor="middle" fill="#333" stroke="#333" stroke-width="0.16">11</text>
<text x="218.5" y="443.50" font-size="5.1" text-anchor="middle" fill="#333" stroke="#333" stroke-width="0.16">3</text>
<text x="39.2" y="449.80" font-size="5.1" text-anchor="end" fill="#333" stroke="#333" stroke-width="0.18">IM 800</text>
<text x="52.1" y="449.80" font-size="5.1" text-anchor="middle" fill="#333" stroke="#333" stroke-width="0.16">57</text>
<text x="121.8" y="449.80" font-size="5.1" text-anchor="middle" fill="#333" stroke="#333" stroke-width="0.16">40</text>
<text x="191.4" y="449.80" font-size="5.1" text-anchor="middle" fill="#333" stroke="#333" stroke-width="0.16">9</text>
<text x="218.5" y="449.80" font-size="5.1" text-anchor="middle" fill="#333" stroke="#333" stroke-width="0.16">1</text>
</svg>
</body></html>
